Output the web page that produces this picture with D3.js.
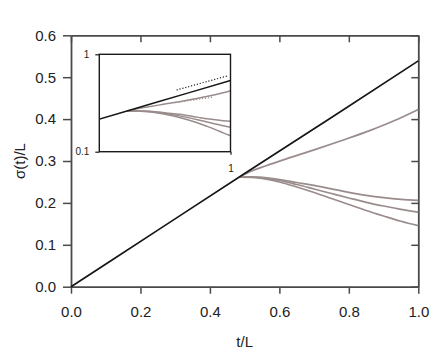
<!DOCTYPE html>
<html>
<head>
<meta charset="utf-8">
<script src="https://cdn.jsdelivr.net/npm/d3@7"></script>
<style>
  body { margin: 0; background: #fff; }
  svg { font-family: "Liberation Sans", Arial, sans-serif; }
</style>
</head>
<body>
<svg id="canvas" width="436" height="352"></svg>
<script>
// straight black line
const tBlack = [0, 0.25, 0.5, 0.75, 1.0]
const sigmaBlack = [0, 0.135, 0.270, 0.404, 0.539]

// upper grey branch
const tUpper = [0.485, 0.52, 0.56, 0.62, 0.70, 0.78, 0.86, 0.93, 1.0]
const sigmaUpper = [0.2614, 0.2760, 0.2880, 0.3050, 0.3265, 0.3490, 0.3725, 0.3960, 0.4232]

// three lower grey branches
const tLower = [0.485, 0.52, 0.55, 0.60, 0.65, 0.70, 0.75, 0.80, 0.85, 0.90, 0.95, 1.0]
const sigmaLowA = [0.2614, 0.2623, 0.2611, 0.2558, 0.2487, 0.2418, 0.2334, 0.2251, 0.2179, 0.2124, 0.2084, 0.2060]
const sigmaLowB = [0.2614, 0.2618, 0.2599, 0.2535, 0.2439, 0.2332, 0.2224, 0.2117, 0.2014, 0.1926, 0.1847, 0.1780]
const sigmaLowC = [0.2614, 0.2611, 0.2582, 0.2499, 0.2379, 0.2248, 0.2105, 0.1962, 0.1819, 0.1687, 0.1561, 0.1456]

// reference slopes in the inset (dotted)
const tRefOne = [0.686, 0.977]
const sigmaRefOne = [0.43, 0.599]
const tRefHalf = [0.68, 0.88]
const sigmaRefHalf = [0.319, 0.362]

const xTicks = [0, 0.2, 0.4, 0.6, 0.8, 1.0]
const yTicks = [0, 0.1, 0.2, 0.3, 0.4, 0.5, 0.6]
const insetYTicks = [0.1, 1]
const insetXTicks = [1]

const grey = '#9a8c8c'
const frame = '#4a4a4a'

let zip = (ts, ss) => ts.map((t, i) => [t, ss[i]])

let canvas = d3.select('#canvas')

// ---- main plot
let x = d3.scaleLinear().domain([0, 1]).range([71, 418.3])
let y = d3.scaleLinear().domain([0, 0.6]).range([286.7, 35.3])

let styleAxis = (g) => {
  g.select('.domain').attr('stroke', frame).attr('stroke-width', 1.8)
  g.selectAll('.tick line').attr('stroke', frame).attr('stroke-width', 1.5)
  g.selectAll('.tick text').attr('fill', '#222').style('font-size', '15px')
}

canvas.append('g')
  .attr('transform', 'translate(0,' + y(0) + ')')
  .call(d3.axisBottom(x).tickValues(xTicks).tickFormat(d3.format('.1f')).tickSize(7).tickSizeOuter(0).tickPadding(13))
  .call(styleAxis)

canvas.append('g')
  .attr('transform', 'translate(0,' + y(0.6) + ')')
  .call(d3.axisBottom(x).tickValues(xTicks).tickFormat('').tickSize(7).tickSizeOuter(0))
  .call(styleAxis)

canvas.append('g')
  .attr('transform', 'translate(' + x(0) + ',0)')
  .call(d3.axisLeft(y).tickValues(yTicks).tickFormat(d3.format('.1f')).tickSize(8).tickSizeOuter(0).tickPadding(7))
  .call(styleAxis)

canvas.append('g')
  .attr('transform', 'translate(' + x(1) + ',0)')
  .call(d3.axisLeft(y).tickValues(yTicks).tickFormat('').tickSize(7).tickSizeOuter(0))
  .call(styleAxis)

canvas.append('text')
  .attr('x', (x(0) + x(1)) / 2)
  .attr('y', 347)
  .attr('text-anchor', 'middle')
  .style('font-size', '15px')
  .attr('fill', '#222')
  .text('t/L')

canvas.append('text')
  .attr('transform', 'translate(25,' + (y(0) + y(0.6)) / 2 + ') rotate(-90)')
  .attr('text-anchor', 'middle')
  .style('font-size', '15px')
  .attr('fill', '#222')
  .text('σ(t)/L')

let line = d3.line().x(d => x(d[0])).y(d => y(d[1])).curve(d3.curveMonotoneX)

let greys = [zip(tUpper, sigmaUpper), zip(tLower, sigmaLowA), zip(tLower, sigmaLowB), zip(tLower, sigmaLowC)]

canvas.selectAll('path.grey')
  .data(greys)
  .enter()
  .append('path')
  .attr('class', 'grey')
  .attr('d', line)
  .attr('fill', 'none')
  .attr('stroke', grey)
  .attr('stroke-width', 1.7)

canvas.append('path')
  .attr('d', line(zip(tBlack, sigmaBlack)))
  .attr('fill', 'none')
  .attr('stroke', '#161616')
  .attr('stroke-width', 1.7)

// ---- inset (log-log)
let xi = d3.scaleLog().domain([0.4, 1]).range([99.3, 230.5])
let yi = d3.scaleLog().domain([0.1, 1]).range([151.7, 54.3])

let inset = canvas.append('g')

inset.append('clipPath').attr('id', 'clip')
  .append('rect')
  .attr('x', xi(0.4)).attr('y', yi(1))
  .attr('width', xi(1) - xi(0.4)).attr('height', yi(0.1) - yi(1))

let lineI = d3.line().x(d => xi(d[0])).y(d => yi(d[1])).curve(d3.curveMonotoneX)

let plotArea = inset.append('g').attr('clip-path', 'url(#clip)')

plotArea.selectAll('path.grey')
  .data(greys)
  .enter()
  .append('path')
  .attr('class', 'grey')
  .attr('d', lineI)
  .attr('fill', 'none')
  .attr('stroke', grey)
  .attr('stroke-width', 1.5)

plotArea.append('path')
  .attr('d', lineI(zip(tBlack, sigmaBlack).filter(d => d[0] > 0)))
  .attr('fill', 'none')
  .attr('stroke', '#161616')
  .attr('stroke-width', 1.5)

plotArea.append('path')
  .attr('d', d3.line().x(d => xi(d[0])).y(d => yi(d[1]))(zip(tRefOne, sigmaRefOne)))
  .attr('fill', 'none')
  .attr('stroke', '#222')
  .attr('stroke-width', 1.2)
  .attr('stroke-dasharray', '1.2,1.8')

plotArea.append('path')
  .attr('d', d3.line().x(d => xi(d[0])).y(d => yi(d[1]))(zip(tRefHalf, sigmaRefHalf)))
  .attr('fill', 'none')
  .attr('stroke', grey)
  .attr('stroke-width', 1.2)
  .attr('stroke-dasharray', '1.2,1.8')

inset.append('rect')
  .attr('x', xi(0.4)).attr('y', yi(1))
  .attr('width', xi(1) - xi(0.4)).attr('height', yi(0.1) - yi(1))
  .attr('fill', 'none')
  .attr('stroke', '#1a1a1a')
  .attr('stroke-width', 1.4)

let styleInsetAxis = (g) => {
  g.select('.domain').remove()
  g.selectAll('.tick line').attr('stroke', '#1a1a1a').attr('stroke-width', 1.2)
  g.selectAll('.tick text').attr('fill', '#222').style('font-size', '10px')
}

inset.append('g')
  .attr('transform', 'translate(' + xi(0.4) + ',0)')
  .call(d3.axisLeft(yi).tickValues(insetYTicks).tickFormat(d => d === 1 ? '1' : '0.1').tickSize(4).tickPadding(6))
  .call(styleInsetAxis)

inset.append('g')
  .attr('transform', 'translate(0,' + yi(0.1) + ')')
  .call(d3.axisBottom(xi).tickValues(insetXTicks).tickFormat(d => '1').tickSize(3).tickPadding(10))
  .call(styleInsetAxis)
</script>
</body>
</html>
